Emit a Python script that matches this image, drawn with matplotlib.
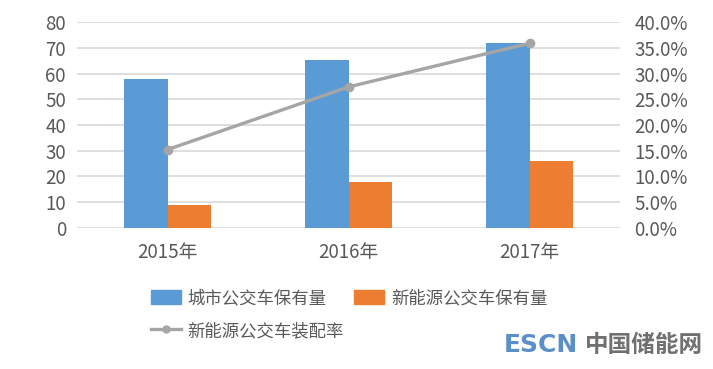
import numpy as np
import matplotlib
matplotlib.use("Agg")
import matplotlib.pyplot as plt
from matplotlib.lines import Line2D
from matplotlib.patches import Patch

plt.rcParams['font.family'] = ['Noto Sans CJK SC', 'DejaVu Sans']

# data
years = ['2015年', '2016年', '2017年']
city_bus = [58.0, 65.1, 71.8]          # 城市公交车保有量
ne_bus = [8.7, 17.6, 25.8]             # 新能源公交车保有量
ne_ratio = [15.2, 27.4, 35.9]          # 新能源公交车装配率 (%)

blue = '#5b9bd5'
orange = '#ed7d31'
grey = '#a5a5a5'
txt = '#595959'

fig = plt.figure(figsize=(7.13, 3.69), dpi=100)
ax = fig.add_axes([0.108, 0.383, 0.762, 0.557])
x = np.arange(len(years))
w = 0.24
ax.bar(x - w / 2, city_bus, w, color=blue, zorder=2)
ax.bar(x + w / 2, ne_bus, w, color=orange, zorder=2)

ax.set_xlim(-0.5, 2.5)
ax.set_ylim(0, 80)
ax.set_yticks(range(0, 81, 10))
ax.set_xticks(x)
ax.set_xticklabels(years)
ax.grid(axis='y', color='#d9d9d9', linewidth=1.2, zorder=0)
for s in ax.spines.values():
    s.set_visible(False)
ax.tick_params(length=0, labelsize=13.5, colors=txt, pad=8)
ax.tick_params(axis='x', pad=10)

ax2 = ax.twinx()
ax2.plot(x, ne_ratio, color=grey, linewidth=2.4, marker='o', markersize=6, zorder=3)
ax2.set_ylim(0, 40)
ax2.set_yticks(range(0, 41, 5))
ax2.set_yticklabels([f'{v:.1f}%' for v in range(0, 41, 5)])
for s in ax2.spines.values():
    s.set_visible(False)
ax2.tick_params(length=0, labelsize=13.5, colors=txt, pad=10)

# legend filled column-wise: blue + line in col 1, orange in col 2
handles = [Patch(color=blue, label='城市公交车保有量'),
           Line2D([], [], color=grey, linewidth=2.4, marker='o', markersize=5,
                  label='新能源公交车装配率'),
           Patch(color=orange, label='新能源公交车保有量')]
leg = fig.legend(handles=handles, loc='upper left', bbox_to_anchor=(0.19, 0.259),
                 ncol=2, frameon=False, fontsize=12.5, handlelength=1.7,
                 handleheight=0.8, columnspacing=0.6, labelspacing=0.85,
                 handletextpad=0.4)
for t in leg.get_texts():
    t.set_color(txt)

# watermark
fig.text(0.706, 0.045, 'ESCN', color='#5b8fc9', fontsize=18, fontweight='bold',
         family=['DejaVu Sans'])
fig.text(0.821, 0.045, '中国储能网', color='#707070', fontsize=17, fontweight='bold')

fig.savefig('out.png', dpi=100)
